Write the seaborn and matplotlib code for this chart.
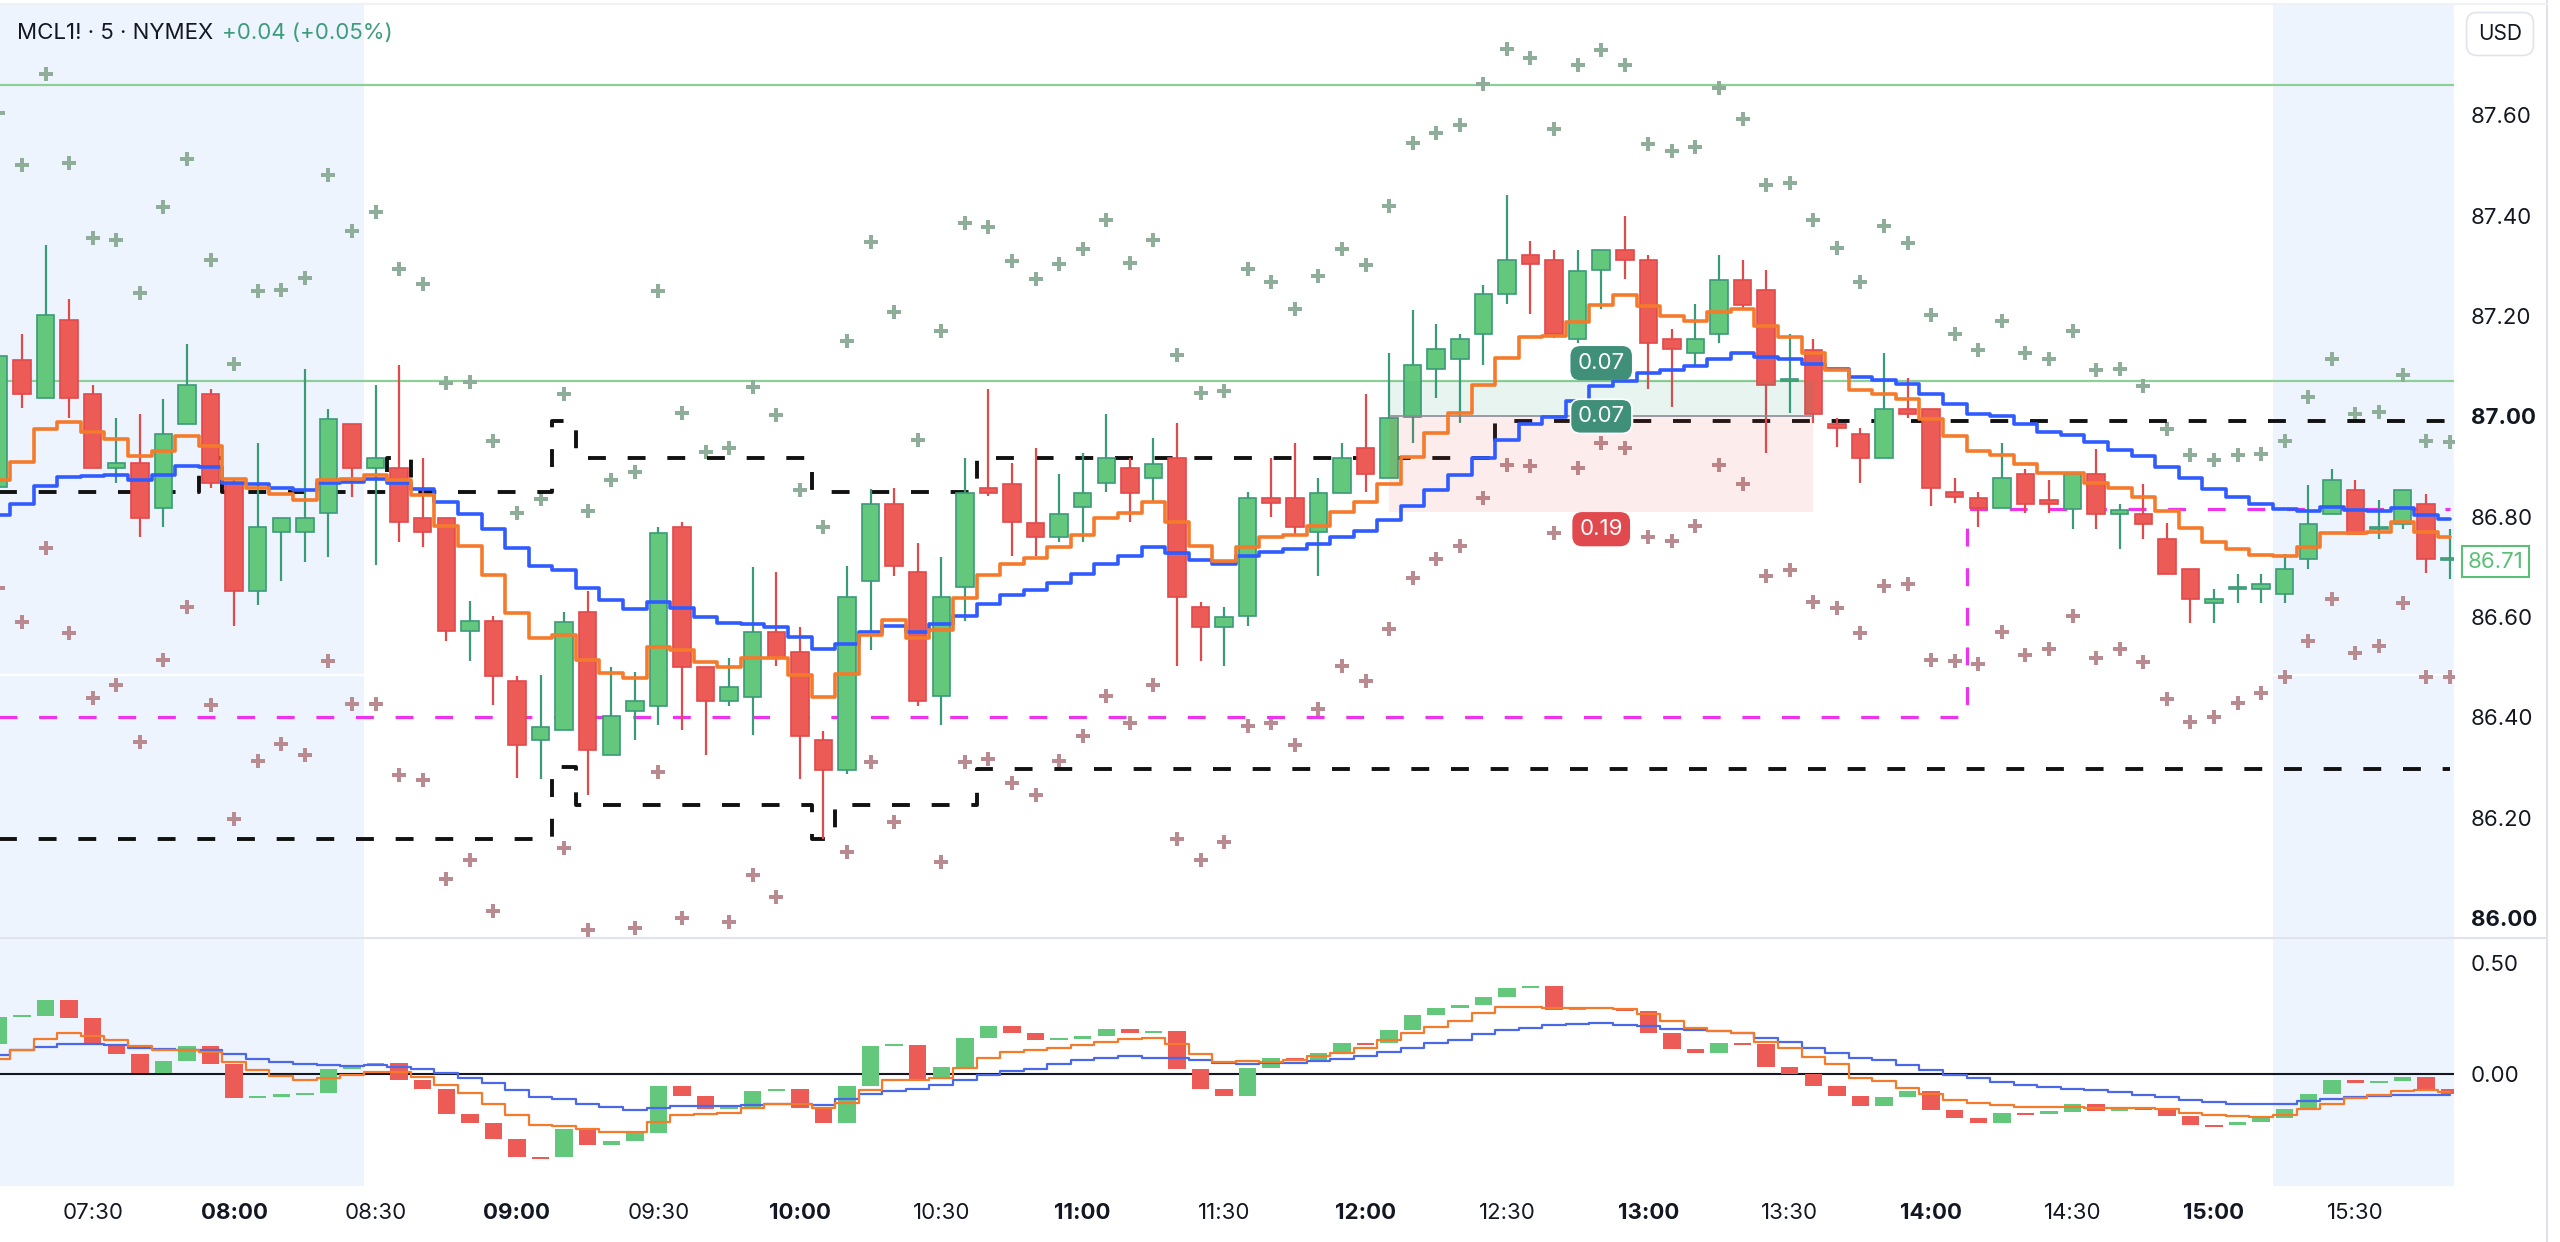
import numpy as np
import pandas as pd
import matplotlib
matplotlib.use('Agg')
import matplotlib.pyplot as plt
import matplotlib.transforms as mtransforms
from matplotlib.lines import Line2D
import seaborn as sns

# ---- data (MCL1!, 5 min, 07:10 .. 15:50) ----
times = pd.date_range('2024-01-01 07:10', periods=105, freq='5min')

opens = [86.86, 87.113, 87.036, 87.193, 87.045, 86.897, 86.906, 86.818, 86.985, 87.045,
         86.868, 86.651, 86.769, 86.769, 86.808, 86.985, 86.897, 86.897, 86.798, 86.798,
         86.572, 86.592, 86.473, 86.355, 86.375, 86.61, 86.324, 86.413, 86.423, 86.779,
         86.501, 86.433, 86.441, 86.57, 86.531, 86.355, 86.295, 86.671, 86.826, 86.689,
         86.443, 86.66, 86.857, 86.866, 86.788, 86.759, 86.82, 86.867, 86.896, 86.878,
         86.916, 86.62, 86.58, 86.602, 86.837, 86.837, 86.769, 86.848, 86.937, 86.877,
         86.998, 87.095, 87.114, 87.164, 87.244, 87.322, 87.311, 87.154, 87.292, 87.331,
         87.311, 87.154, 87.126, 87.164, 87.271, 87.251, 87.07, 87.133, 86.984, 86.964,
         86.916, 87.014, 87.014, 86.849, 86.837, 86.818, 86.885, 86.833, 86.815, 86.885,
         86.805, 86.805, 86.755, 86.695, 86.627, 86.655, 86.655, 86.645, 86.715, 86.805,
         86.853, 86.775, 86.785, 86.825, 86.713]
highs = [87.13, 87.164, 87.342, 87.233, 87.063, 86.996, 87.004, 87.035, 87.145, 87.054,
         86.876, 86.947, 86.798, 87.094, 87.015, 86.985, 87.063, 87.103, 86.916, 86.798,
         86.631, 86.602, 86.483, 86.485, 86.61, 86.651, 86.501, 86.491, 86.779, 86.789,
         86.501, 86.519, 86.7, 86.69, 86.58, 86.373, 86.701, 86.856, 86.857, 86.748,
         86.719, 86.916, 87.055, 86.906, 86.937, 86.886, 86.926, 87.004, 86.916, 86.956,
         86.986, 86.63, 86.62, 86.849, 86.916, 86.946, 86.877, 86.946, 87.045, 87.126,
         87.212, 87.184, 87.165, 87.262, 87.441, 87.35, 87.331, 87.331, 87.331, 87.4,
         87.322, 87.174, 87.224, 87.321, 87.311, 87.291, 87.164, 87.154, 86.996, 86.976,
         87.126, 87.077, 87.014, 86.878, 86.849, 86.947, 86.894, 86.874, 86.885, 86.934,
         86.825, 86.865, 86.787, 86.695, 86.655, 86.685, 86.685, 86.725, 86.864, 86.894,
         86.874, 86.834, 86.853, 86.845, 86.775]
lows = [86.85, 87.017, 87.036, 86.997, 86.897, 86.868, 86.76, 86.78, 86.985, 86.858,
        86.582, 86.623, 86.671, 86.71, 86.72, 86.839, 86.703, 86.75, 86.74, 86.553,
        86.513, 86.424, 86.278, 86.277, 86.375, 86.246, 86.324, 86.355, 86.385, 86.375,
        86.325, 86.423, 86.365, 86.503, 86.277, 86.157, 86.287, 86.534, 86.681, 86.423,
        86.385, 86.592, 86.841, 86.721, 86.721, 86.75, 86.75, 86.849, 86.789, 86.828,
        86.503, 86.512, 86.503, 86.582, 86.8, 86.762, 86.681, 86.848, 86.849, 86.877,
        86.947, 87.037, 86.986, 87.103, 87.224, 87.204, 87.156, 87.146, 87.214, 87.274,
        87.055, 87.019, 87.103, 87.146, 87.214, 86.926, 87.006, 86.987, 86.938, 86.868,
        86.916, 86.996, 86.821, 86.828, 86.78, 86.818, 86.807, 86.807, 86.776, 86.776,
        86.736, 86.756, 86.686, 86.587, 86.587, 86.627, 86.627, 86.627, 86.695, 86.805,
        86.765, 86.755, 86.776, 86.687, 86.675]
closes = [87.12, 87.045, 87.202, 87.036, 86.897, 86.906, 86.798, 86.965, 87.063, 86.868,
          86.651, 86.779, 86.798, 86.798, 86.995, 86.897, 86.916, 86.789, 86.769, 86.572,
          86.592, 86.483, 86.345, 86.381, 86.59, 86.335, 86.402, 86.433, 86.767, 86.501,
          86.433, 86.461, 86.57, 86.519, 86.362, 86.295, 86.64, 86.826, 86.701, 86.433,
          86.64, 86.847, 86.848, 86.789, 86.759, 86.806, 86.847, 86.916, 86.848, 86.905,
          86.64, 86.58, 86.6, 86.837, 86.827, 86.779, 86.847, 86.916, 86.886, 86.996,
          87.103, 87.134, 87.154, 87.243, 87.311, 87.303, 87.164, 87.29, 87.331, 87.311,
          87.146, 87.134, 87.154, 87.271, 87.222, 87.063, 87.073, 87.004, 86.976, 86.916,
          87.014, 87.004, 86.857, 86.839, 86.818, 86.877, 86.825, 86.825, 86.885, 86.805,
          86.813, 86.785, 86.686, 86.635, 86.635, 86.657, 86.665, 86.695, 86.785, 86.873,
          86.765, 86.777, 86.853, 86.715, 86.715]

# cross markers above / below the bars
upper_marks = [87.605, 87.502, 87.683, 87.505, 87.356, 87.352, 87.246, 87.418, 87.512, 87.311,
               87.104, 87.249, 87.251, 87.275, 87.481, 87.369, 87.408, 87.294, 87.263, 87.067,
               87.069, 86.95, 86.808, 86.836, 87.044, 86.812, 86.873, 86.889, 87.249, 87.007,
               86.928, 86.937, 87.059, 87.002, 86.854, 86.78, 87.151, 87.348, 87.208, 86.952,
               87.17, 87.386, 87.378, 87.309, 87.273, 87.304, 87.334, 87.391, 87.306, 87.351,
               87.123, 87.047, 87.051, 87.294, 87.267, 87.214, 87.28, 87.334, 87.301, 87.42,
               87.544, 87.564, 87.58, 87.663, 87.733, 87.715, 87.573, 87.7, 87.73, 87.7,
               87.542, 87.528, 87.537, 87.655, 87.593, 87.461, 87.466, 87.392, 87.336, 87.267,
               87.38, 87.346, 87.202, 87.164, 87.132, 87.19, 87.127, 87.114, 87.17, 87.093,
               87.095, 87.06, 86.975, 86.923, 86.912, 86.923, 86.925, 86.95, 87.038, 87.114,
               87.005, 87.008, 87.083, 86.95, 86.948]
lower_marks = [86.658, 86.59, 86.737, 86.568, 86.439, 86.465, 86.351, 86.514, 86.62, 86.425,
               86.198, 86.312, 86.346, 86.324, 86.512, 86.426, 86.426, 86.284, 86.274, 86.077,
               86.115, 86.014, np.nan, np.nan, 86.14, 85.975, np.nan, 85.979, 86.291, 85.999,
               np.nan, 85.992, 86.085, 86.042, np.nan, np.nan, 86.132, 86.31, 86.191, np.nan,
               86.111, 86.31, 86.317, 86.27, 86.245, 86.312, 86.363, 86.442, 86.389, 86.464,
               86.158, 86.116, 86.152, 86.383, 86.389, 86.344, 86.416, 86.502, 86.473, 86.577,
               86.678, 86.716, 86.741, 86.837, 86.903, 86.901, 86.767, 86.896, 86.947, 86.937,
               86.759, 86.752, 86.782, 86.903, 86.865, 86.681, 86.694, 86.629, 86.617, 86.568,
               86.661, 86.666, 86.514, 86.512, 86.506, 86.57, 86.524, 86.536, 86.601, 86.519,
               86.536, 86.51, 86.436, 86.39, 86.4, 86.428, 86.448, 86.481, 86.553, 86.636,
               86.528, 86.542, 86.627, 86.481, 86.481]

ma_slow = [86.804, 86.826, 86.862, 86.879, 86.881, 86.883, 86.873, 86.883, 86.901, 86.898,
           86.868, 86.866, 86.858, 86.853, 86.868, 86.87, 86.876, 86.868, 86.856, 86.83,
           86.805, 86.776, 86.737, 86.701, 86.693, 86.658, 86.633, 86.615, 86.63, 86.617,
           86.599, 86.587, 86.585, 86.58, 86.56, 86.536, 86.547, 86.57, 86.582, 86.57,
           86.585, 86.602, 86.625, 86.643, 86.654, 86.668, 86.686, 86.706, 86.721, 86.74,
           86.727, 86.714, 86.706, 86.721, 86.729, 86.735, 86.745, 86.76, 86.772, 86.794,
           86.822, 86.853, 86.883, 86.916, 86.952, 86.984, 86.999, 87.03, 87.06, 87.07,
           87.087, 87.092, 87.1, 87.115, 87.126, 87.119, 87.115, 87.105, 87.095, 87.078,
           87.073, 87.065, 87.045, 87.024, 87.004, 87.0, 86.985, 86.968, 86.962, 86.948,
           86.933, 86.921, 86.899, 86.877, 86.855, 86.839, 86.825, 86.815, 86.812, 86.819,
           86.813, 86.812, 86.818, 86.803, 86.795]
ma_fast = [86.873, 86.908, 86.974, 86.989, 86.969, 86.954, 86.92, 86.93, 86.961, 86.941,
           86.875, 86.858, 86.845, 86.833, 86.873, 86.876, 86.883, 86.873, 86.843, 86.782,
           86.742, 86.683, 86.607, 86.558, 86.565, 86.514, 86.489, 86.479, 86.541, 86.534,
           86.511, 86.501, 86.519, 86.519, 86.484, 86.44, 86.487, 86.565, 86.594, 86.558,
           86.575, 86.638, 86.683, 86.706, 86.718, 86.74, 86.764, 86.797, 86.807, 86.829,
           86.79, 86.742, 86.711, 86.74, 86.76, 86.764, 86.782, 86.81, 86.829, 86.865,
           86.918, 86.967, 87.007, 87.062, 87.117, 87.158, 87.161, 87.188, 87.221, 87.242,
           87.219, 87.201, 87.191, 87.208, 87.214, 87.181, 87.158, 87.126, 87.093, 87.053,
           87.045, 87.035, 86.994, 86.961, 86.93, 86.922, 86.905, 86.887, 86.887, 86.867,
           86.857, 86.84, 86.812, 86.777, 86.75, 86.735, 86.724, 86.722, 86.739, 86.767,
           86.767, 86.77, 86.789, 86.77, 86.76]

# stepped channel levels (dashed)
chan_high = ([86.849] * 9 + [86.917] + [86.849] * 7 + [86.917] + [86.849] * 6 + [86.99]
             + [86.917] * 10 + [86.849] * 7 + [86.917] * 22 + [86.99] * 41)
chan_low = [86.157] * 24 + [86.30] + [86.226] * 10 + [86.157] + [86.226] * 6 + [86.297] * 63
magenta_level = [86.40] * 84 + [86.815] * 21
level_lines = [87.66, 87.07]

# position tool: entry / target / stop and the bars it spans
pos_start, pos_end = 59, 77
pos_entry, pos_target, pos_stop = 87.00, 87.07, 86.81

# lower pane oscillator
osc_start = 0.137
osc = [0.258, 0.261, 0.333, 0.255, 0.137, 0.092, 0.002, 0.057, 0.127, 0.044,
       -0.109, -0.103, -0.097, -0.087, 0.024, 0.035, 0.05, -0.026, -0.069, -0.179,
       -0.22, -0.296, -0.376, -0.377, -0.249, -0.323, -0.303, -0.265, -0.054, -0.1,
       -0.16, -0.152, -0.077, -0.069, -0.155, -0.222, -0.054, 0.127, 0.131, -0.021,
       0.032, 0.163, 0.219, 0.186, 0.152, 0.16, 0.172, 0.204, 0.186, 0.195,
       0.024, -0.066, -0.1, 0.027, 0.072, 0.062, 0.095, 0.142, 0.14, 0.201,
       0.265, 0.299, 0.314, 0.348, 0.389, 0.397, 0.288, 0.293, 0.294, 0.284,
       0.183, 0.115, 0.095, 0.142, 0.137, 0.032, -0.002, -0.054, -0.1, -0.145,
       -0.104, -0.077, -0.164, -0.198, -0.222, -0.176, -0.179, -0.173, -0.136, -0.167,
       -0.149, -0.164, -0.192, -0.229, -0.231, -0.217, -0.198, -0.16, -0.089, -0.026,
       -0.041, -0.032, -0.014, -0.066, -0.089]
osc_fast = [0.069, 0.107, 0.16, 0.183, 0.17, 0.155, 0.125, 0.11, 0.107, 0.1,
            0.054, 0.017, -0.011, -0.026, -0.017, -0.006, 0.009, 0.009, -0.014, -0.051,
            -0.086, -0.134, -0.184, -0.232, -0.235, -0.25, -0.262, -0.262, -0.217, -0.187,
            -0.183, -0.176, -0.152, -0.137, -0.137, -0.152, -0.13, -0.074, -0.029, -0.026,
            -0.017, 0.027, 0.071, 0.098, 0.107, 0.118, 0.13, 0.145, 0.157, 0.164,
            0.137, 0.092, 0.054, 0.059, 0.054, 0.062, 0.08, 0.095, 0.119, 0.152,
            0.186, 0.213, 0.241, 0.276, 0.303, 0.303, 0.3, 0.3, 0.3, 0.293,
            0.27, 0.238, 0.21, 0.195, 0.186, 0.145, 0.118, 0.077, 0.044, -0.018,
            -0.032, -0.062, -0.092, -0.116, -0.13, -0.142, -0.149, -0.149, -0.149, -0.152,
            -0.152, -0.152, -0.16, -0.176, -0.184, -0.192, -0.195, -0.187, -0.16, -0.134,
            -0.107, -0.097, -0.077, -0.074, -0.081]
osc_slow = [0.084, 0.107, 0.122, 0.137, 0.137, 0.13, 0.119, 0.112, 0.11, 0.107,
            0.092, 0.069, 0.054, 0.044, 0.042, 0.036, 0.042, 0.032, 0.024, 0.006,
            -0.017, -0.041, -0.074, -0.104, -0.115, -0.137, -0.149, -0.161, -0.152, -0.146,
            -0.146, -0.145, -0.139, -0.136, -0.136, -0.142, -0.112, -0.089, -0.078, -0.069,
            -0.051, -0.026, -0.006, 0.012, 0.024, 0.044, 0.062, 0.074, 0.081, 0.074,
            0.074, 0.062, 0.051, 0.047, 0.051, 0.051, 0.059, 0.066, 0.08, 0.1,
            0.119, 0.14, 0.155, 0.179, 0.201, 0.21, 0.22, 0.228, 0.231, 0.223,
            0.216, 0.205, 0.201, 0.195, 0.183, 0.164, 0.145, 0.119, 0.095, 0.074,
            0.062, 0.042, 0.017, -0.006, -0.018, -0.036, -0.048, -0.059, -0.068, -0.072,
            -0.081, -0.094, -0.106, -0.118, -0.128, -0.134, -0.136, -0.134, -0.122, -0.113,
            -0.104, -0.1, -0.095, -0.094, -0.094]

price_ticks = [86.0, 86.2, 86.4, 86.6, 86.8, 87.0, 87.2, 87.4, 87.6]
osc_ticks = [0.0, 0.5]
last_price = 86.71
ext_hours = [('07:10', '08:25'), ('15:15', '15:50')]

# ---- style ----
GREEN, GREEN_EDGE = '#63c77c', '#3b9a78'
RED, RED_EDGE = '#ec5b56', '#e2494b'
BLUE, ORANGE = '#2f5bff', '#f47a2c'
TEXT = '#131722'
GRID = '#e0e3eb'

sns.set_theme(style='white')
plt.rcParams['font.family'] = ['Inter', 'DejaVu Sans']

W, H = 2560, 1242
fig = plt.figure(figsize=(W / 100, H / 100), dpi=100)
ax = fig.add_axes([0, 1 - 938 / H, 2454 / W, 934 / H])
ax2 = fig.add_axes([0, 1 - 1186 / H, 2454 / W, 248 / H], sharex=ax)

x = np.arange(len(times))
o, h, l, c = map(np.asarray, (opens, highs, lows, closes))
up = c >= o

# extended-hours shading (whole bars)
labels_hm = list(times.strftime('%H:%M'))
for a, b in ext_hours:
    i0, i1 = labels_hm.index(a), labels_hm.index(b)
    left = -1.0 if i0 == 0 else i0 - 0.5
    right = i1 + 1.0 if i1 == len(times) - 1 else i1 + 0.5
    for axx in (ax, ax2):
        axx.axvspan(left, right, color='#eef4fd', lw=0, zorder=0)
    ax.hlines(86.485, left, right, color='white', lw=1.6, zorder=0.5)

for lv in level_lines:
    ax.axhline(lv, color='#8ccf97', lw=1.6, zorder=1.5)

# channel + magenta levels
ax.plot(x, chan_high, drawstyle='steps-mid', color='#111111', lw=2.8,
        linestyle=(0, (4.6, 5.6)), zorder=2.5)
ax.plot(x, chan_low, drawstyle='steps-mid', color='#111111', lw=2.8,
        linestyle=(0, (4.6, 5.6)), zorder=2.5)
ax.plot(x, magenta_level, drawstyle='steps-mid', color='#ee33ee', lw=2.3,
        linestyle=(0, (5.6, 6.8)), zorder=2.5)

# cross markers
sns.scatterplot(x=x, y=upper_marks, marker='P', s=90, color='#8fae99', linewidth=0,
                ax=ax, legend=False, zorder=2)
sns.scatterplot(x=x, y=lower_marks, marker='P', s=90, color='#b98b90', linewidth=0,
                ax=ax, legend=False, zorder=2)

# candles
edge = np.where(up, GREEN_EDGE, RED_EDGE)
ax.vlines(x, l, h, colors=list(edge), lw=1.6, zorder=3)
ax.bar(x, np.maximum(np.abs(c - o), 0.004), bottom=np.minimum(o, c), width=0.74,
       color=list(np.where(up, GREEN, RED)), edgecolor=list(edge), linewidth=1.2, zorder=3.2)

# position tool
xs = [pos_start, pos_end]
ax.fill_between(xs, pos_entry, pos_target, color='#2f9e7c', alpha=0.11, lw=0, zorder=3.6)
ax.fill_between(xs, pos_stop, pos_entry, color='#e84a4a', alpha=0.10, lw=0, zorder=3.6)
ax.hlines(pos_entry, pos_start, pos_end, color='#8a8d96', lw=1.2, zorder=3.7)

# moving averages
sns.lineplot(x=x, y=ma_slow, ax=ax, color=BLUE, lw=2.6, drawstyle='steps-mid',
             estimator=None, legend=False, zorder=5)
sns.lineplot(x=x, y=ma_fast, ax=ax, color=ORANGE, lw=2.6, drawstyle='steps-mid',
             estimator=None, legend=False, zorder=5)

mid = (pos_start + pos_end) / 2
lab = dict(ha='center', va='center', color='white', fontsize=16, zorder=7)
ax.text(mid, 87.106, f'{pos_target - pos_entry:.2f}',
        bbox=dict(boxstyle='round,pad=0.32,rounding_size=0.45', fc='#3f8f79', ec='none'), **lab)
ax.text(mid, pos_entry, f'{pos_target - pos_entry:.2f}',
        bbox=dict(boxstyle='round,pad=0.32,rounding_size=0.45', fc='#3f8f79', ec='white', lw=1.2), **lab)
ax.text(mid, 86.775, f'{pos_entry - pos_stop:.2f}',
        bbox=dict(boxstyle='round,pad=0.32,rounding_size=0.45', fc='#e0494d', ec='none'), **lab)

# lower pane: oscillator drawn as boxes from previous to current value
osc_arr = np.asarray(osc)
prev = np.concatenate([[osc_start], osc_arr[:-1]])
rising = osc_arr >= prev
ax2.axhline(0, color=TEXT, lw=1.5, zorder=2)
ax2.bar(x, np.where(np.abs(osc_arr - prev) < 0.01, np.sign(osc_arr - prev + 1e-9) * 0.01, osc_arr - prev),
        bottom=prev, width=0.74, color=list(np.where(rising, GREEN, RED)), lw=0, zorder=3)
sns.lineplot(x=x, y=osc_slow, ax=ax2, color='#4a68e8', lw=1.6, drawstyle='steps-mid',
             estimator=None, legend=False, zorder=4)
sns.lineplot(x=x, y=osc_fast, ax=ax2, color=ORANGE, lw=1.6, drawstyle='steps-mid',
             estimator=None, legend=False, zorder=4)

# axes, ticks
ax.set_xlim(0.068, 104.18)
ax.set_ylim(85.960, 87.822)
ax2.set_ylim(-0.507, 0.615)
for axx in (ax, ax2):
    for s in axx.spines.values():
        s.set_visible(False)
    axx.set_facecolor('white')
    axx.grid(False)
    axx.set_xlabel('')
    axx.set_ylabel('')
    axx.yaxis.tick_right()
    axx.tick_params(axis='y', length=0, pad=12, labelsize=16, labelcolor=TEXT)

ax.set_yticks(price_ticks)
ax.set_yticklabels([f'{v:.2f}' for v in price_ticks])
for t, v in zip(ax.get_yticklabels(), price_ticks):
    if abs(v - round(v)) < 1e-9:
        t.set_fontweight('bold')
ax.tick_params(axis='x', bottom=False, labelbottom=False)

ax2.set_yticks(osc_ticks)
ax2.set_yticklabels([f'{v:.2f}' for v in osc_ticks])
tick_idx = [i for i, t in enumerate(times) if t.minute in (0, 30)]
ax2.set_xticks(tick_idx)
ax2.set_xticklabels([labels_hm[i] for i in tick_idx])
for t, i in zip(ax2.get_xticklabels(), tick_idx):
    if times[i].minute == 0:
        t.set_fontweight('bold')
ax2.tick_params(axis='x', length=0, pad=12, labelsize=16, labelcolor=TEXT)

# last price tag on the scale
trans = mtransforms.blended_transform_factory(ax.transAxes, ax.transData)
ax.text(1.0055, last_price, f'{last_price:.2f}', transform=trans, ha='left', va='center',
        color='#5cbf78', fontsize=16, clip_on=False, zorder=8,
        bbox=dict(boxstyle='square,pad=0.25', fc='white', ec='#5cbf78', lw=1.5))

# header + frame
fig.text(17 / W, 1 - 33 / H, 'MCL1! · 5 · NYMEX', ha='left', va='center', fontsize=16, color=TEXT)
fig.text(222 / W, 1 - 33 / H, '+0.04 (+0.05%)', ha='left', va='center', fontsize=16, color='#3d9c7c')
fig.text(2500 / W, 1 - 34 / H, 'USD', ha='center', va='center', fontsize=15, color=TEXT,
         bbox=dict(boxstyle='round,pad=0.55,rounding_size=0.5', fc='white', ec=GRID, lw=1.2))
fig.add_artist(Line2D([0, 2547 / W], [1 - 938 / H] * 2, color=GRID, lw=1.5))
fig.add_artist(Line2D([2547 / W] * 2, [0, 1], color=GRID, lw=1.5))
fig.add_artist(Line2D([0, 2547 / W], [1 - 4 / H] * 2, color='#f0f1f4', lw=1.5))

fig.savefig('out.png', dpi=100, facecolor='white')
